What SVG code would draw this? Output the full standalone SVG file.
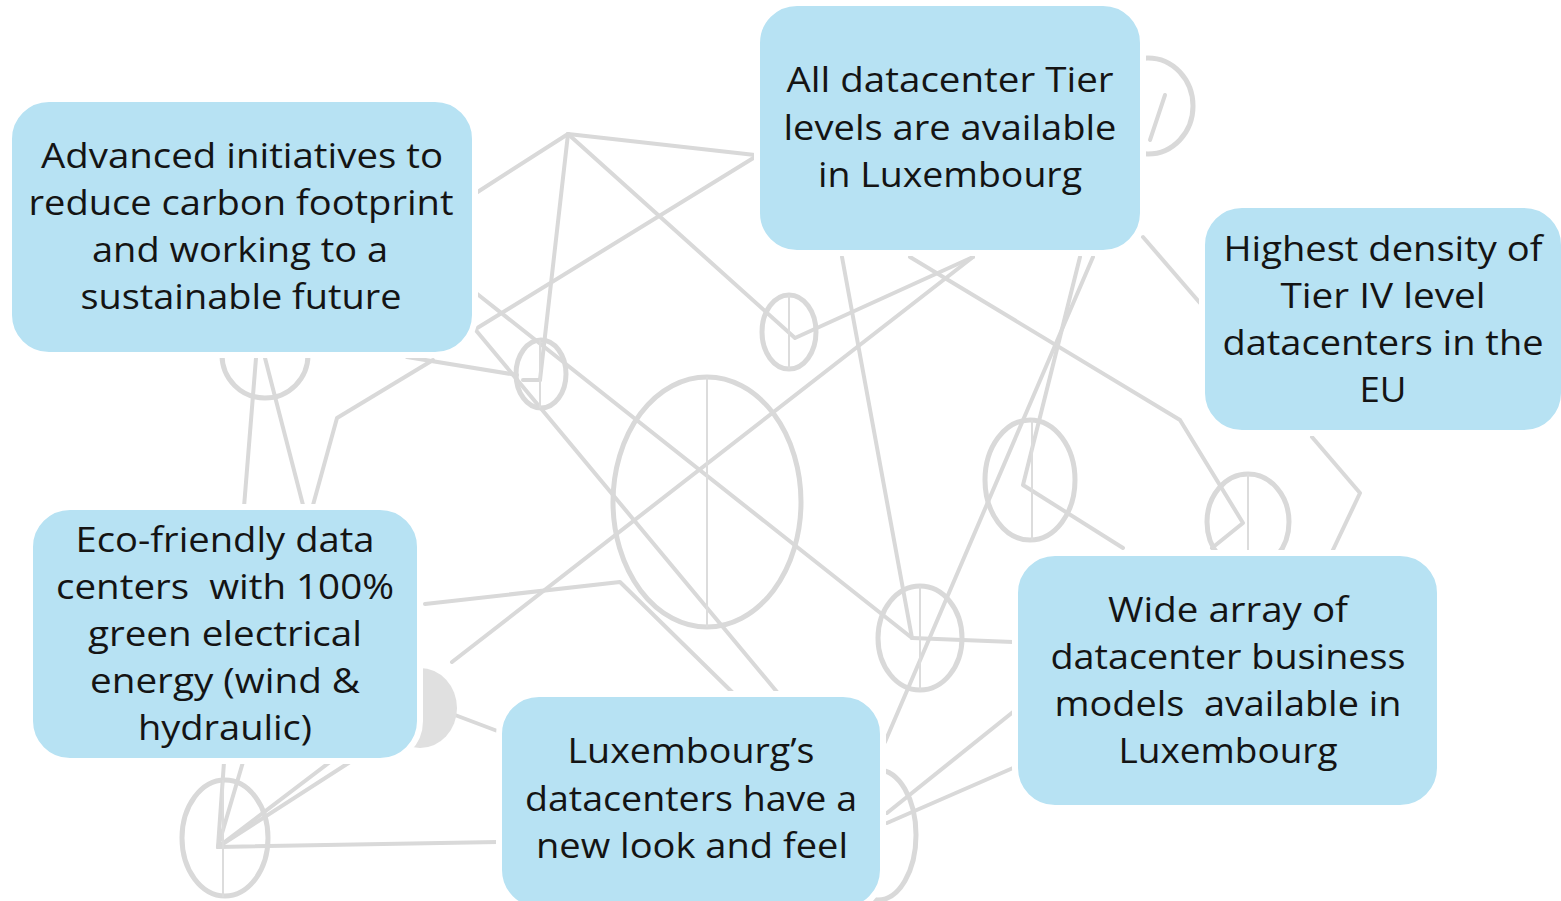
<svg xmlns="http://www.w3.org/2000/svg" width="1561" height="901" viewBox="0 0 1561 901">
<style>
.ln{fill:none;stroke:#D9D9D9;stroke-width:4;stroke-linecap:round;stroke-linejoin:round}
.el{fill:none;stroke:#D9D9D9;stroke-width:5}
.th{fill:none;stroke:#DCDCDC;stroke-width:2}
.box{fill:#B7E2F3;stroke:#FFFFFF;stroke-width:6}
.t{font-family:"Open Sans","Liberation Sans",sans-serif;font-size:34px;fill:#141414;text-anchor:middle}
</style>
<rect width="1561" height="901" fill="#FFFFFF"/>
<g id="connectors">
  <polyline class="ln" points="476,193 568,134"/>
  <polyline class="ln" points="568,134 755,155"/>
  <polyline class="ln" points="568,134 540,380"/>
  <polyline class="ln" points="568,134 795,338 973,257"/>
  <polyline class="ln" points="755,157 474,330"/>
  <polyline class="ln" points="476,293 912,638"/>
  <polyline class="ln" points="973,257 452,662"/>
  <polyline class="ln" points="474,328 777,692"/>
  <polyline class="ln" points="425,604 620,582 732,692"/>
  <polyline class="ln" points="455,715 500,732"/>
  <polyline class="ln" points="407,357 517,375"/>
  <polyline class="ln" points="433,360 337,418 313,505"/>
  <polyline class="ln" points="256,358 244,507"/>
  <polyline class="ln" points="265,358 303,505"/>
  <polyline class="ln" points="842,257 912,638"/>
  <polyline class="ln" points="1093,257 885,742"/>
  <polyline class="ln" points="1080,257 1023,485 1123,548"/>
  <polyline class="ln" points="910,257 1180,420 1243,523 1212,548"/>
  <polyline class="ln" points="1312,437 1360,493 1332,552"/>
  <polyline class="ln" points="1143,237 1200,303"/>
  <polyline class="ln" points="912,638 1013,642"/>
  <polyline class="ln" points="887,813 1013,712"/>
  <polyline class="ln" points="887,823 1013,768"/>
  <polyline class="ln" points="218,847 224,762"/>
  <polyline class="ln" points="218,847 243,762"/>
  <polyline class="ln" points="218,847 330,762"/>
  <polyline class="ln" points="218,847 350,762"/>
  <polyline class="ln" points="218,847 498,842"/>
  <polyline class="ln" points="1165,95 1150,140"/>
  <polyline class="ln" points="523,380 540,380"/>
  <ellipse class="el" cx="707" cy="502" rx="94" ry="125"/>
  <line class="th" x1="707" y1="377" x2="707" y2="627"/>
  <ellipse class="el" cx="789" cy="332" rx="27" ry="37"/>
  <line class="th" x1="789" y1="295" x2="789" y2="369"/>
  <ellipse class="el" cx="541" cy="374" rx="25" ry="34"/>
  <line class="th" x1="540" y1="340" x2="540" y2="408"/>
  <ellipse class="el" cx="265" cy="355" rx="43" ry="43"/>
  <ellipse class="el" cx="1030" cy="480" rx="45" ry="60"/>
  <line class="th" x1="1032" y1="420" x2="1032" y2="540"/>
  <ellipse class="el" cx="1248" cy="522" rx="41" ry="48"/>
  <line class="th" x1="1248" y1="474" x2="1248" y2="556"/>
  <ellipse class="el" cx="920" cy="638" rx="42" ry="52"/>
  <line class="th" x1="920" y1="586" x2="920" y2="690"/>
  <ellipse class="el" cx="225" cy="838" rx="43" ry="58"/>
  <line class="th" x1="223" y1="780" x2="223" y2="897"/>
  <ellipse class="el" cx="878" cy="835" rx="38" ry="65"/>
  <ellipse class="el" cx="1148" cy="106" rx="45" ry="48"/>
  <ellipse cx="420" cy="708" rx="37" ry="40" fill="#E0E0E0"/>
</g>
<g id="node-carbon">
  <rect class="box" x="9" y="99" width="466" height="256" rx="40"/>
  <text class="t" x="242" y="168" textLength="402" lengthAdjust="spacingAndGlyphs">Advanced initiatives to</text>
  <text class="t" x="241" y="215" textLength="425" lengthAdjust="spacingAndGlyphs">reduce carbon footprint</text>
  <text class="t" x="240" y="262" textLength="296" lengthAdjust="spacingAndGlyphs">and working to a</text>
  <text class="t" x="241" y="309" textLength="321" lengthAdjust="spacingAndGlyphs">sustainable future</text>
</g>
<g id="node-tier">
  <rect class="box" x="757" y="3" width="386" height="250" rx="40"/>
  <text class="t" x="950" y="92" textLength="327" lengthAdjust="spacingAndGlyphs">All datacenter Tier</text>
  <text class="t" x="950" y="140" textLength="333" lengthAdjust="spacingAndGlyphs">levels are available</text>
  <text class="t" x="950" y="187" textLength="264" lengthAdjust="spacingAndGlyphs">in Luxembourg</text>
</g>
<g id="node-density">
  <rect class="box" x="1202" y="205" width="362" height="228" rx="40"/>
  <text class="t" x="1383" y="261" textLength="319" lengthAdjust="spacingAndGlyphs">Highest density of</text>
  <text class="t" x="1383" y="308" textLength="205" lengthAdjust="spacingAndGlyphs">Tier IV level</text>
  <text class="t" x="1383" y="355" textLength="321" lengthAdjust="spacingAndGlyphs">datacenters in the</text>
  <text class="t" x="1383" y="402" textLength="47" lengthAdjust="spacingAndGlyphs">EU</text>
</g>
<g id="node-eco">
  <rect class="box" x="30" y="507" width="390" height="254" rx="40"/>
  <text class="t" x="225" y="552" textLength="299" lengthAdjust="spacingAndGlyphs">Eco-friendly data</text>
  <text class="t" x="225" y="599" textLength="338" lengthAdjust="spacingAndGlyphs" xml:space="preserve">centers  with 100%</text>
  <text class="t" x="225" y="646" textLength="274" lengthAdjust="spacingAndGlyphs">green electrical</text>
  <text class="t" x="225" y="693" textLength="270" lengthAdjust="spacingAndGlyphs">energy (wind &amp;</text>
  <text class="t" x="225" y="740" textLength="174" lengthAdjust="spacingAndGlyphs">hydraulic)</text>
</g>
<g id="node-look">
  <rect class="box" x="499" y="694" width="384" height="216" rx="40"/>
  <text class="t" x="691" y="763" textLength="247" lengthAdjust="spacingAndGlyphs">Luxembourg’s</text>
  <text class="t" x="691" y="811" textLength="332" lengthAdjust="spacingAndGlyphs">datacenters have a</text>
  <text class="t" x="692" y="858" textLength="312" lengthAdjust="spacingAndGlyphs">new look and feel</text>
</g>
<g id="node-models">
  <rect class="box" x="1015" y="553" width="425" height="255" rx="40"/>
  <text class="t" x="1228" y="622" textLength="240" lengthAdjust="spacingAndGlyphs">Wide array of</text>
  <text class="t" x="1228" y="669" textLength="355" lengthAdjust="spacingAndGlyphs">datacenter business</text>
  <text class="t" x="1228" y="716" textLength="347" lengthAdjust="spacingAndGlyphs" xml:space="preserve">models  available in</text>
  <text class="t" x="1228" y="763" textLength="219" lengthAdjust="spacingAndGlyphs">Luxembourg</text>
</g>
</svg>
